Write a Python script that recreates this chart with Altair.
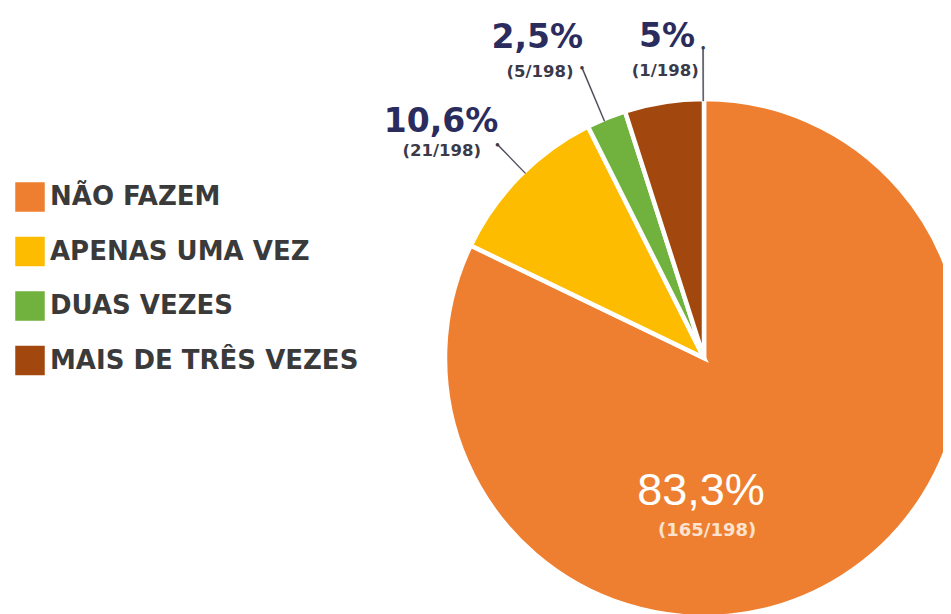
import altair as alt
import pandas as pd

# ---- data ----
categories = ["NÃO FAZEM", "APENAS UMA VEZ", "DUAS VEZES", "MAIS DE TRÊS VEZES"]
values = [83.3, 10.6, 2.5, 5.0]
pct_labels = ["83,3%", "10,6%", "2,5%", "5%"]
count_labels = ["(165/198)", "(21/198)", "(5/198)", "(1/198)"]
colors = ["#EE7F30", "#FDBC00", "#70B23D", "#A2480E"]

df = pd.DataFrame({
    "cat": categories,
    "value": values,
    "pct": pct_labels,
    "cnt": count_labels,
    "order": list(range(len(categories))),
})
total = float(sum(values))

# ---- layout (styling, not data) ----
CX, CY, R = 696, 350, 259
NAVY = "#2B2C5E"
DARK = "#3A3A48"
FONT = "DejaVu Sans"

theta_scale = alt.Scale(domain=[0, total], nice=False, zero=True)

base = alt.Chart(df).transform_window(
    cum="sum(value)", sort=[alt.SortField("order")], frame=[None, 0]
).transform_calculate(
    start="datum.cum - datum.value",
    mid="datum.cum - datum.value / 2",
)

pie = base.mark_arc(radius=R, stroke="white", strokeWidth=4.5).encode(
    theta=alt.Theta("start:Q", scale=theta_scale),
    theta2="cum:Q",
    color=alt.Color(
        "cat:N",
        scale=alt.Scale(domain=categories, range=colors),
        legend=alt.Legend(
            title=None, orient="none", legendX=7, legendY=174,
            symbolType="square", symbolSize=870, symbolStrokeWidth=0,
            symbolOpacity=1,
            labelFont=FONT, labelFontWeight="bold", labelFontSize=26,
            labelColor="#3A3A3A", rowPadding=24.5, labelOffset=5,
            padding=0, labelLimit=500,
        ),
    ),
    order=alt.Order("order:Q"),
    x=alt.value(CX), y=alt.value(CY),
)


def polar_text(cat, field, deg_off, r, **style):
    return base.transform_filter(alt.datum.cat == cat).transform_calculate(
        t=f"datum.mid + ({deg_off}) * {total} / 360"
    ).mark_text(radius=r, align="center", baseline="middle", **style).encode(
        theta=alt.Theta("t:Q", scale=theta_scale),
        text=alt.Text(f"{field}:N"),
        x=alt.value(CX), y=alt.value(CY),
    )


def polar_dot(cat, deg_off, r):
    return base.transform_filter(alt.datum.cat == cat).transform_calculate(
        t=f"datum.mid + ({deg_off}) * {total} / 360"
    ).mark_text(radius=r, align="center", baseline="middle", text="●",
                fontSize=8, color=DARK).encode(
        theta=alt.Theta("t:Q", scale=theta_scale),
        x=alt.value(CX), y=alt.value(CY),
    )


def leader(cat, deg_off, r):
    return base.transform_filter(alt.datum.cat == cat).transform_calculate(
        t=f"datum.mid + ({deg_off}) * {total} / 360",
        t2=f"datum.mid + ({deg_off} + 0.2) * {total} / 360",
    ).mark_arc(radius=r, radius2=R - 2, fill=DARK, stroke=DARK, strokeWidth=0.4).encode(
        theta=alt.Theta("t:Q", scale=theta_scale),
        theta2="t2:Q",
        x=alt.value(CX), y=alt.value(CY),
    )


layers = [pie]

# outer labels: (pct offset, pct r, cnt offset, cnt r, dot offset, dot r)
outer = {
    "APENAS UMA VEZ": (-2.7, 353, -6.3, 334, 1.4, 297),
    "DUAS VEZES": (-5.3, 361, -7.6, 330, -0.6, 315),
    "MAIS DE TRÊS VEZES": (2.3, 323, 1.2, 290, 8.7, 310),
}
for cat, (po, pr, co, cr, do, dr) in outer.items():
    layers.append(leader(cat, do - 0.1, dr))
    layers.append(polar_dot(cat, do, dr))
    layers.append(polar_text(cat, "pct", po, pr, font=FONT, fontWeight="bold",
                             fontSize=33, color=NAVY))
    layers.append(polar_text(cat, "cnt", co, cr, font=FONT, fontWeight="bold",
                             fontSize=16.5, color=DARK))

# label inside the big slice
layers.append(polar_text("NÃO FAZEM", "pct", 33.4, 133, font="Liberation Sans",
                         fontSize=45, color="white"))
layers.append(polar_text("NÃO FAZEM", "cnt", 31.1, 173, font=FONT, fontWeight="bold",
                         fontSize=18, color="#FCE3CF"))

chart = alt.layer(*layers).properties(
    width=935, height=606,
    autosize=alt.AutoSizeParams(type="none"),
    padding=0,
).configure_view(stroke=None)

chart.save("out.html", embed_options={"renderer": "svg", "actions": False})
